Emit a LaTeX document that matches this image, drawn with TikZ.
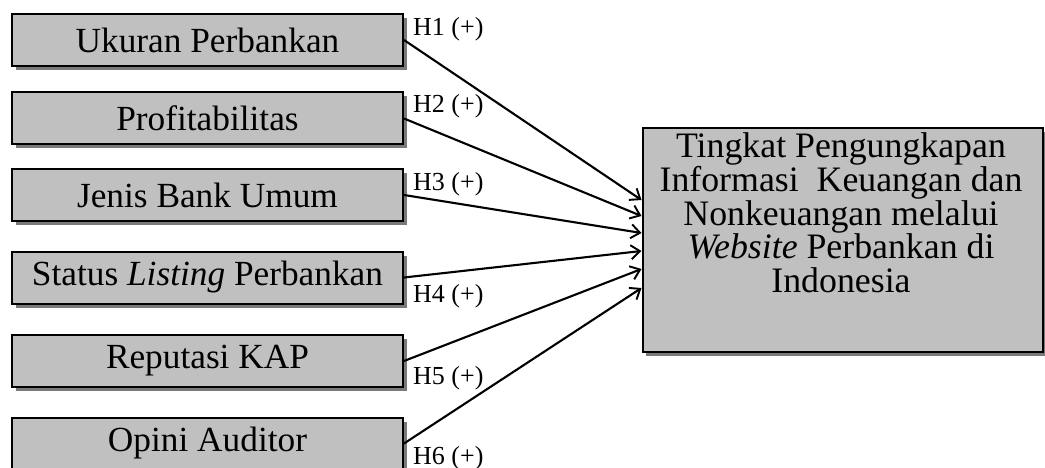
\documentclass[tikz,border=0pt]{standalone}
\usepackage{fontspec}
\setmainfont{Liberation Serif}
\usetikzlibrary{arrows.meta,shadows,calc}
\definecolor{boxgray}{HTML}{C0C0C0}
\begin{document}
\begin{tikzpicture}[x=1pt,y=-1pt,
  shadowed/.style={drop shadow={shadow xshift=3.5pt, shadow yshift=-4pt, fill=black!80, opacity=0.65}},
  varbox/.style={shadowed, draw=black, line width=2pt, fill=boxgray, minimum width=391pt, minimum height=52pt, inner sep=0pt, font=\fontsize{35.3}{40}\selectfont},
  bigbox/.style={shadowed, draw=black, line width=2pt, fill=boxgray, minimum width=400pt, minimum height=223pt, inner sep=0pt},
  bigtext/.style={align=center, inner sep=0pt, font=\fontsize{35.8}{33.7}\selectfont},
  hlab/.style={inner sep=0pt, anchor=base west, font=\fontsize{26}{30}\selectfont},
  conn/.style={line width=2.1pt, -{Straight Barb[length=9pt,width=14pt,line width=1.9pt]}}
]
\useasboundingbox (0,0) rectangle (1045,468);
\node[varbox] (b1) at (207.5,40) {Ukuran Perbankan};
\node[varbox] (b2) at (207.5,118.5) {Profitabilitas};
\node[varbox] (b3) at (207.5,195) {Jenis Bank Umum};
\node[varbox] (b4) at (207.5,277.5) {Status \textit{Listing} Perbankan};
\node[varbox] (b5) at (207.5,361) {Reputasi KAP};
\node[varbox] (b6) at (207.5,443.5) {Opini Auditor};
\node[bigbox] (t) at (842.5,240) {};
\node[bigtext, anchor=north] (tt) at (841,132.6) {Tingkat Pengungkapan\\Informasi\ \ Keuangan dan\\Nonkeuangan melalui\\\textit{Website} Perbankan di\\Indonesia};
\coordinate (e1) at ($(t.west)+(0,-40)$);
\coordinate (e2) at ($(t.west)+(0,-24)$);
\coordinate (e3) at ($(t.west)+(0,-7)$);
\coordinate (e4) at ($(t.west)+(0,11)$);
\coordinate (e5) at ($(t.west)+(0,29)$);
\coordinate (e6) at ($(t.west)+(0,48)$);
\draw[conn] (b1.east) -- (e1);
\draw[conn] (b2.east) -- (e2);
\draw[conn] (b3.east) -- (e3);
\draw[conn] (b4.east) -- (e4);
\draw[conn] (b5.east) -- (e5);
\draw[conn] (b6.east) -- (e6);
\node[hlab] (h1) at (413,36) {H1 (+)};
\node[hlab] (h2) at (413,113) {H2 (+)};
\node[hlab] (h3) at (413,190) {H3 (+)};
\node[hlab] (h4) at (413,302) {H4 (+)};
\node[hlab] (h5) at (413,384) {H5 (+)};
\node[hlab] (h6) at (413,464) {H6 (+)};
\end{tikzpicture}
\end{document}
